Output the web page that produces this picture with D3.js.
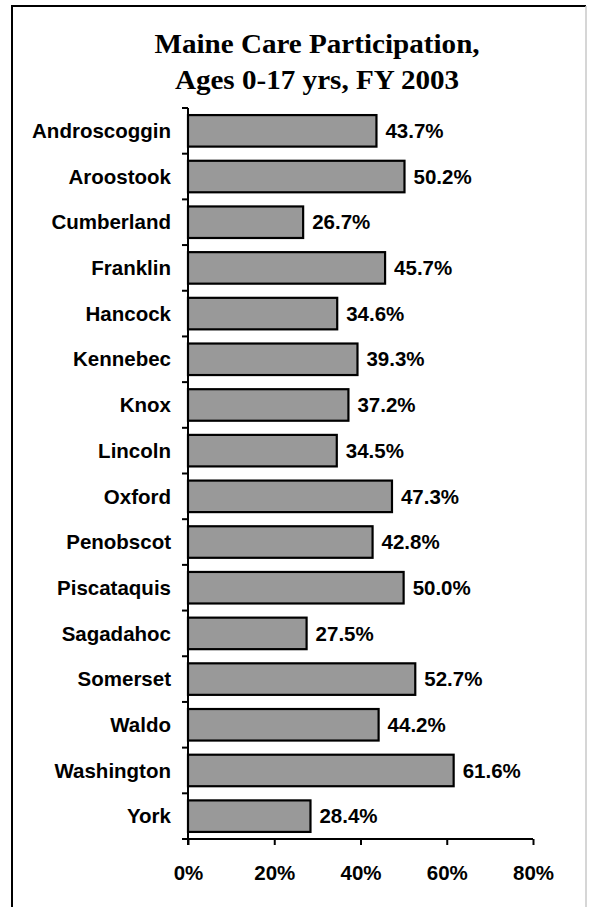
<!DOCTYPE html>
<html>
<head>
<meta charset="utf-8">
<script src="https://cdn.jsdelivr.net/npm/d3@7"></script>
<style>
  html, body { margin: 0; padding: 0; background: #fff; }
  svg { display: block; }
</style>
</head>
<body>
<svg id="chart" width="590" height="907"></svg>
<script>
const titleLines = ["Maine Care Participation,", "Ages 0-17 yrs, FY 2003"];
const counties = ["Androscoggin","Aroostook","Cumberland","Franklin","Hancock","Kennebec","Knox","Lincoln","Oxford","Penobscot","Piscataquis","Sagadahoc","Somerset","Waldo","Washington","York"];
const participation = [43.7, 50.2, 26.7, 45.7, 34.6, 39.3, 37.2, 34.5, 47.3, 42.8, 50.0, 27.5, 52.7, 44.2, 61.6, 28.4];
const xTicks = [0, 20, 40, 60, 80];

const svg = d3.select("#chart");

// frame
svg.append("line").attr("x1", 12).attr("y1", 6).attr("x2", 12).attr("y2", 907)
  .attr("stroke", "#000").attr("stroke-width", 2);
svg.append("line").attr("x1", 11).attr("y1", 6).attr("x2", 586).attr("y2", 6)
  .attr("stroke", "#000").attr("stroke-width", 2);
svg.append("line").attr("x1", 586).attr("y1", 6).attr("x2", 586).attr("y2", 907)
  .attr("stroke", "#c8c8c8").attr("stroke-width", 1.5);

// title
svg.append("g").selectAll("text").data(titleLines).join("text")
  .attr("transform", (d, i) => `translate(317,${53 + i * 36}) scale(1.04,1)`)
  .attr("text-anchor", "middle")
  .attr("font-family", "'Liberation Serif', 'Times New Roman', serif")
  .attr("font-weight", "bold").attr("font-size", 28)
  .text(d => d);

const x = d3.scaleLinear().domain([0, 80]).range([188, 533]);
const y = d3.scaleBand().domain(counties).range([108, 839]).paddingInner(0.31).paddingOuter(0.155);

const font = "'Liberation Sans', Arial, sans-serif";
const fs = 20.5;

// bars
svg.append("g").selectAll("rect").data(counties).join("rect")
  .attr("x", x(0))
  .attr("y", d => y(d))
  .attr("width", (d, i) => x(participation[i]) - x(0))
  .attr("height", y.bandwidth())
  .attr("fill", "#999999")
  .attr("stroke", "#000").attr("stroke-width", 2.2);

// value labels
svg.append("g").selectAll("text").data(counties).join("text")
  .attr("x", (d, i) => x(participation[i]) + 9)
  .attr("y", d => y(d) + y.bandwidth() / 2)
  .attr("dy", "0.35em")
  .attr("font-family", font).attr("font-weight", "bold").attr("font-size", fs)
  .text((d, i) => participation[i].toFixed(1) + "%");

// y axis
const yBoundaries = d3.range(counties.length + 1).map(i => 108 + i * (839 - 108) / counties.length);
const yAxisG = svg.append("g");
yAxisG.append("line").attr("x1", x(0)).attr("x2", x(0)).attr("y1", 108).attr("y2", 845)
  .attr("stroke", "#000").attr("stroke-width", 2);
yAxisG.selectAll("line.tk").data(yBoundaries).join("line").attr("class", "tk")
  .attr("x1", x(0) - 6).attr("x2", x(0)).attr("y1", d => d).attr("y2", d => d)
  .attr("stroke", "#000").attr("stroke-width", 2);
yAxisG.selectAll("text").data(counties).join("text")
  .attr("x", 171).attr("y", d => y(d) + y.bandwidth() / 2)
  .attr("dy", "0.35em").attr("text-anchor", "end")
  .attr("font-family", font).attr("font-weight", "bold").attr("font-size", fs)
  .text(d => d);

// x axis
const xAxis = d3.axisBottom(x).tickValues(xTicks).tickFormat(d => d + "%").tickSize(6).tickSizeOuter(0);
const xg = svg.append("g").attr("transform", "translate(0,839)").call(xAxis);
xg.select(".domain").attr("stroke", "#000").attr("stroke-width", 2)
  .attr("d", `M${x(0) - 6},0H${x(80)}`);
xg.selectAll(".tick line").attr("stroke", "#000").attr("stroke-width", 2);
xg.selectAll(".tick text").attr("y", 34).attr("dy", "0.35em")
  .attr("font-family", font).attr("font-weight", "bold").attr("font-size", fs).attr("fill", "#000");
</script>
</body>
</html>
